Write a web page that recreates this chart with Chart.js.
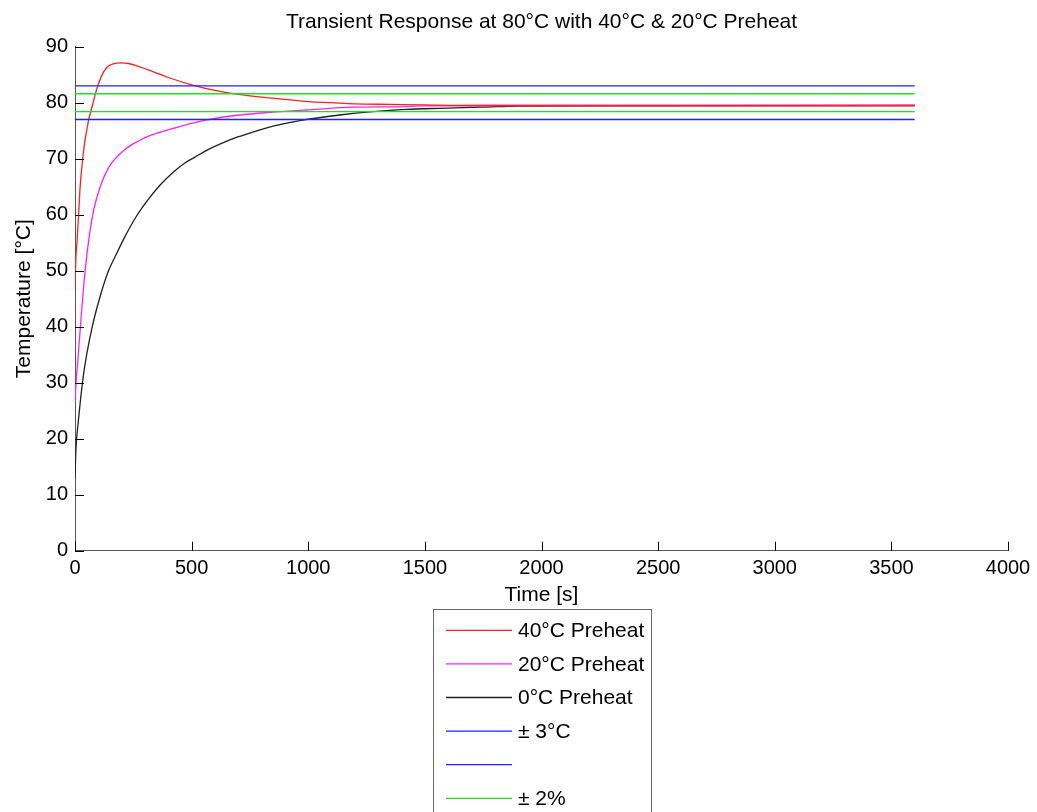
<!DOCTYPE html>
<html>
<head>
<meta charset="utf-8">
<title>Transient Response</title>
<script src="https://cdn.jsdelivr.net/npm/chart.js@4.4.1/dist/chart.umd.min.js"></script>
<style>
  html, body { margin: 0; padding: 0; background: #fff; }
  #wrap { width: 1037px; height: 812px; }
</style>
</head>
<body>
<div id="wrap"><canvas id="chart" width="1037" height="812"></canvas></div>
<script>
// values
const redTime = [0, 2, 4, 8.5, 15.5, 22, 33, 42, 50, 58, 77, 95, 113, 134, 160, 200, 230, 284, 350, 400, 500, 600, 700, 800, 900, 1000, 1100, 1200, 1350, 1500, 1700, 2000, 2500, 3000, 3600];
const redTemp = [46.5, 50, 52.5, 55, 60, 65, 70, 73, 75, 76.8, 79.9, 82.7, 84.7, 86.2, 86.9, 87.1, 87.0, 86.3, 85.3, 84.5, 83.2, 82.2, 81.5, 81.0, 80.6, 80.2, 80.0, 79.8, 79.7, 79.6, 79.5, 79.5, 79.5, 79.5, 79.5];

const magTime = [0, 3, 6, 11, 20, 30, 40, 58, 80, 108, 147, 213, 278, 313, 421, 549, 707, 849, 992, 1192, 1420, 1500, 1800, 2500, 3600];
const magTemp = [26.4, 29, 31, 33.4, 38.2, 43.6, 48.5, 55.2, 60.8, 65, 68.6, 71.6, 73.3, 74.0, 75.4, 76.8, 77.8, 78.3, 78.7, 79.2, 79.3, 79.45, 79.5, 79.5, 79.5];

const blackTime = [0, 3, 6, 11, 22, 35, 50, 75, 107, 140, 180, 213, 260, 310, 365, 421, 470, 511, 564, 654, 707, 797, 849, 964, 1135, 1278, 1420, 1563, 1750, 1900, 2500, 3600];
const blackTemp = [13, 17, 19.5, 21.8, 26.3, 31, 35, 40.2, 45.3, 49.6, 53.2, 56, 59.5, 62.5, 65.3, 67.6, 69.2, 70.2, 71.5, 73.2, 74.0, 75.2, 75.8, 76.8, 77.8, 78.4, 78.8, 79.0, 79.2, 79.4, 79.45, 79.5];

const bandTime = [0, 3600];
const blueUpper = [83, 83];
const blueLower = [77, 77];
const greenUpper = [81.6, 81.6];
const greenLower = [78.4, 78.4];

const seriesLabels = ['40°C Preheat', '20°C Preheat', '0°C Preheat', '± 3°C', '', '± 2%', ''];
const seriesColors = ['#ff2020', '#ff20ff', '#202020', '#2020ff', '#2020ff', '#20e020', '#20e020'];

const xTicks = [0, 500, 1000, 1500, 2000, 2500, 3000, 3500, 4000];
const yTicks = [0, 10, 20, 30, 40, 50, 60, 70, 80, 90];

const titleText = 'Transient Response at 80°C with 40°C & 20°C Preheat';

function pts(t, v) {
  return t.map((x, i) => ({ x: x, y: v[i] }));
}

const FONT = '"Liberation Sans", Arial, sans-serif';
Chart.defaults.font.family = FONT;
Chart.defaults.color = '#000';

const seriesData = [
  pts(redTime, redTemp),
  pts(magTime, magTemp),
  pts(blackTime, blackTemp),
  pts(bandTime, blueUpper),
  pts(bandTime, blueLower),
  pts(bandTime, greenUpper),
  pts(bandTime, greenLower),
];

// title over the axes, inward tick marks, matlab style legend box
const matlabBits = {
  id: 'matlabBits',
  afterDraw(chart) {
    const ctx = chart.ctx;
    const xs = chart.scales.x, ys = chart.scales.y;
    const a = chart.chartArea;
    ctx.save();

    ctx.fillStyle = '#000';
    ctx.font = '21px ' + FONT;
    ctx.textAlign = 'center';
    ctx.textBaseline = 'middle';
    ctx.fillText(titleText, (a.left + a.right) / 2, 22);

    ctx.strokeStyle = '#000';
    ctx.lineWidth = 1;
    ctx.beginPath();
    yTicks.forEach(v => {
      const py = Math.round(ys.getPixelForValue(v)) + 0.5;
      ctx.moveTo(a.left, py);
      ctx.lineTo(a.left + 9, py);
    });
    xTicks.forEach(v => {
      const px = Math.round(xs.getPixelForValue(v)) + 0.5;
      ctx.moveTo(px, a.bottom);
      ctx.lineTo(px, a.bottom - 9);
    });
    ctx.stroke();

    // legend
    const bx = 433.5, by = 609.5, bw = 218, rowH = 33.6, first = 630.3;
    const n = chart.data.datasets.length;
    const bh = first - by + (n - 1) * rowH + 20;
    ctx.fillStyle = '#fff';
    ctx.fillRect(bx, by, bw, bh);
    ctx.strokeStyle = '#666';
    ctx.lineWidth = 1;
    ctx.strokeRect(bx, by, bw, bh);
    ctx.font = '21px ' + FONT;
    ctx.textBaseline = 'middle';
    ctx.textAlign = 'left';
    chart.data.datasets.forEach((ds, i) => {
      const y = first + i * rowH;
      ctx.strokeStyle = ds.borderColor;
      ctx.lineWidth = 1.3;
      ctx.beginPath();
      ctx.moveTo(446, y);
      ctx.lineTo(512, y);
      ctx.stroke();
      ctx.fillStyle = '#000';
      ctx.fillText(ds.label, 518, y + 1);
    });
    ctx.restore();
  }
};

new Chart(document.getElementById('chart'), {
  type: 'line',
  data: {
    datasets: seriesData.map((d, i) => ({
      label: seriesLabels[i],
      data: d,
      borderColor: seriesColors[i],
      borderWidth: 1.3,
      pointRadius: 0,
      cubicInterpolationMode: 'monotone',
      order: i < 3 ? 1 : 0,
    })),
  },
  options: {
    responsive: false,
    animation: false,
    devicePixelRatio: 1,
    layout: { padding: { left: 0, right: 29, top: 46.7, bottom: 204 } },
    plugins: {
      legend: { display: false },
      tooltip: { enabled: false },
      title: { display: false },
    },
    scales: {
      x: {
        type: 'linear',
        min: 0,
        max: 4000,
        ticks: { stepSize: 500, font: { size: 20 }, color: '#000', padding: 6, maxRotation: 0, callback: v => String(v) },
        grid: { display: false, drawTicks: false },
        border: { display: true, color: '#555', width: 1 },
        title: { display: true, text: 'Time [s]', font: { size: 21 }, color: '#000', padding: { top: 0, bottom: 0 } },
        afterFit(s) { s.height = 57.3; s.paddingLeft = 0; s.paddingRight = 0; },
      },
      y: {
        min: 0,
        max: 90,
        ticks: { stepSize: 10, font: { size: 20 }, color: '#000', padding: 7, callback: v => String(v) },
        grid: { display: false, drawTicks: false },
        border: { display: true, color: '#555', width: 1 },
        title: { display: true, text: 'Temperature [°C]', font: { size: 21 }, color: '#000', padding: { top: 12, bottom: 0 } },
        afterFit(s) { s.width = 75; s.paddingTop = 0; s.paddingBottom = 0; },
      },
    },
  },
  plugins: [matlabBits],
});
</script>
</body>
</html>
